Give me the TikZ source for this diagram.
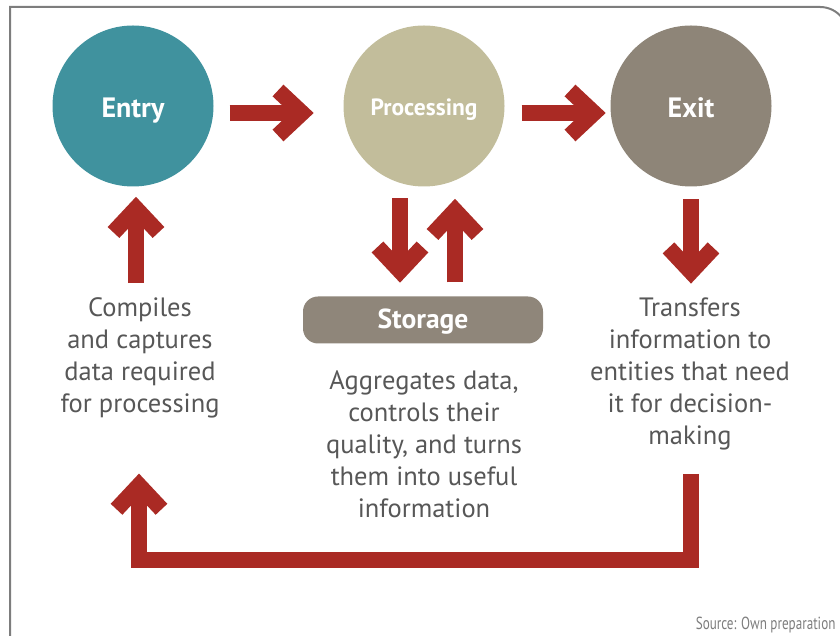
\documentclass[tikz,border=0pt]{standalone}
\usepackage{fontspec}
\setmainfont{PT Sans}
\newfontfamily\srcfont[FakeStretch=0.75]{PT Sans}
\usetikzlibrary{positioning, decorations.markings, calc}
\definecolor{EntryColor}{RGB}{64,146,158}
\definecolor{ProcColor}{RGB}{194,189,155}
\definecolor{ExitColor}{RGB}{142,133,120}
\definecolor{StoreColor}{RGB}{143,134,122}
\definecolor{FlowRed}{RGB}{170,42,36}
\definecolor{TextGray}{RGB}{87,87,87}
\definecolor{FrameGray}{RGB}{125,125,125}

\begin{document}
\begin{tikzpicture}[x=1pt, y=1pt,
    stage/.style={circle, minimum size=161pt, inner sep=0pt, text=white, text height=24pt, text depth=0pt, font=\bfseries\fontsize{28}{32}\selectfont},
    storebox/.style={rectangle, rounded corners=15pt, minimum width=240pt, minimum height=47pt, inner sep=0pt, fill=StoreColor, text=white, text height=17pt, text depth=0pt, font=\bfseries\fontsize{27.5}{30}\selectfont},
    desc/.style={align=center, text=TextGray, font=\fontsize{26.5}{32}\selectfont},
    flow/.style={draw=FlowRed, line width=16pt,
        postaction={decorate, decoration={markings, mark=at position 1 with
            {\draw[FlowRed, line width=16pt, line cap=butt, line join=miter] (-24pt,22.5pt) -- (0pt,0pt) -- (-24pt,-22.5pt);}}}}
]
\useasboundingbox (0,0) rectangle (840,636);

%%%%%%%%%%%%%%%%%%%%%%%%%%%%%%%%%%%%%%%%%%%%%%%%%%%%%%%%%%%%%%%%%%%
% Frame
%%%%%%%%%%%%%%%%%%%%%%%%%%%%%%%%%%%%%%%%%%%%%%%%%%%%%%%%%%%%%%%%%%%
\draw[FrameGray, line width=2pt] (10,-5) -- (10,629) -- (820,629) arc[start angle=90, end angle=40, radius=28pt];

%%%%%%%%%%%%%%%%%%%%%%%%%%%%%%%%%%%%%%%%%%%%%%%%%%%%%%%%%%%%%%%%%%%
% Stages
%%%%%%%%%%%%%%%%%%%%%%%%%%%%%%%%%%%%%%%%%%%%%%%%%%%%%%%%%%%%%%%%%%%
\node[stage, fill=EntryColor] (entry) at (133,530) {Entry};
\node[stage, fill=ProcColor, text height=20pt, font=\bfseries\fontsize{23.5}{28}\selectfont] (proc) at (424,530) {Processing};
\node[stage, fill=ExitColor] (exit) at (691,530) {Exit};

% Storage
\node[storebox] (store) at (423,316) {Storage};

%%%%%%%%%%%%%%%%%%%%%%%%%%%%%%%%%%%%%%%%%%%%%%%%%%%%%%%%%%%%%%%%%%%
% Descriptions
%%%%%%%%%%%%%%%%%%%%%%%%%%%%%%%%%%%%%%%%%%%%%%%%%%%%%%%%%%%%%%%%%%%
\node[desc] (entry_txt) at (140,278) {Compiles\\and captures\\data required\\for processing};
\node[desc] (store_txt) at (424,192) {Aggregates data,\\controls their\\quality, and turns\\them into useful\\information};
\node[desc] (exit_txt) at (690,262) {Transfers\\information to\\entities that need\\it for decision-\\making};

\node[anchor=base east, text=FrameGray, font=\srcfont\fontsize{17.5}{20}\selectfont] (source) at (839,6) {Source: Own preparation};

%%%%%%%%%%%%%%%%%%%%%%%%%%%%%%%%%%%%%%%%%%%%%%%%%%%%%%%%%%%%%%%%%%%
% Connections
%%%%%%%%%%%%%%%%%%%%%%%%%%%%%%%%%%%%%%%%%%%%%%%%%%%%%%%%%%%%%%%%%%%
\draw[flow] ([shift={(16,-7)}]entry.east) -- ([shift={(-41.3,-7)}]proc.west);
\draw[flow] ([shift={(17,-7)}]proc.east) -- ([shift={(-16.3,-7)}]exit.west);

\draw[flow] ([shift={(3,-96.5)}]entry.south) -- ([shift={(3,-21.8)}]entry.south);

\draw[flow] ([shift={(-24,-11.5)}]proc.south) -- ([shift={(-23,25.3)}]store.north);
\draw[flow] ([shift={(32,14)}]store.north) -- ([shift={(31,-23.8)}]proc.south);

\draw[flow] ([shift={(0,-12.5)}]exit.south) -- ([shift={(0,-85.2)}]exit.south);

% Feedback loop
\coordinate (loop_out) at (691,162);
\coordinate (loop_in) at (139,150.7);
\draw[flow] (loop_out) -- ++(0,-86) -| (loop_in);

\end{tikzpicture}
\end{document}
